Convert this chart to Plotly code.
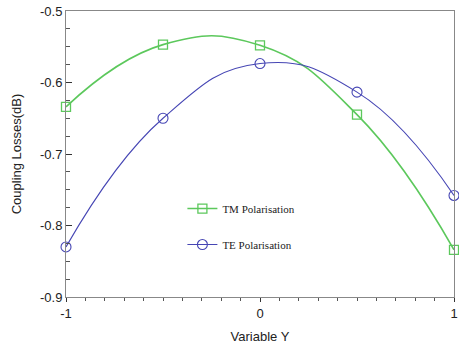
import plotly.graph_objects as go

# Offset values along the Y direction
variable_y = [-1.0, -0.5, 0.0, 0.5, 1.0]
# Coupling losses (dB) for each polarisation
tm_loss = [-0.634, -0.547, -0.548, -0.645, -0.834]
te_loss = [-0.830, -0.650, -0.5735, -0.6135, -0.758]

# Axis tick labels (plain hyphen minus signs)
x_ticks = [-1, 0, 1]
x_tick_text = ["-1", "0", "1"]
y_ticks = [-0.9, -0.8, -0.7, -0.6, -0.5]
y_tick_text = ["-0.9", "-0.8", "-0.7", "-0.6", "-0.5"]

fig = go.Figure()
fig.add_trace(go.Scatter(
    x=variable_y, y=tm_loss, name="TM Polarisation", mode="lines+markers",
    line=dict(color="#5cc85c", width=1.6, shape="spline", smoothing=1.3),
    marker=dict(symbol="square-open", size=9, color="#5cc85c", line=dict(width=1.3)),
    cliponaxis=False, legendgroup="tm",
))
fig.add_trace(go.Scatter(
    x=variable_y, y=te_loss, name="TE Polarisation", mode="lines+markers",
    line=dict(color="#4646b4", width=1.1, shape="spline", smoothing=1.3),
    marker=dict(symbol="circle-open", size=10, color="#4646b4", line=dict(width=1.1)),
    cliponaxis=False, legendgroup="te",
))

axis_font = dict(family="Liberation Sans", size=13, color="#222")
fig.update_layout(
    width=459, height=344,
    margin=dict(l=66, r=5, t=11, b=47),
    paper_bgcolor="white", plot_bgcolor="white",
    showlegend=True,
    legend=dict(
        x=0.30, y=0.36, xanchor="left", yanchor="top",
        bgcolor="rgba(0,0,0,0)", traceorder="grouped", tracegroupgap=17,
        font=dict(family="Liberation Serif", size=11, color="#222"),
    ),
    xaxis=dict(
        range=[-1, 1], tickvals=x_ticks, ticktext=x_tick_text, automargin=False,
        ticks="outside", ticklen=4, tickcolor="#333", ticklabeloverflow="allow",
        minor=dict(dtick=0.1, tick0=-1, ticks="outside", ticklen=3, tickcolor="#555", showgrid=False),
        showline=True, linecolor="#888", linewidth=1, mirror=True,
        showgrid=False, zeroline=False, tickfont=axis_font,
        title=dict(text="Variable Y", font=axis_font),
    ),
    yaxis=dict(
        range=[-0.9, -0.5], tickvals=y_ticks, ticktext=y_tick_text, automargin=False,
        ticks="inside", ticklen=6, tickcolor="#333",
        minor=dict(dtick=0.025, tick0=-0.9, ticks="inside", ticklen=4, tickcolor="#555", showgrid=False),
        showline=True, linecolor="#888", linewidth=1, mirror=True,
        showgrid=False, zeroline=False, tickfont=axis_font,
        title=dict(text="Coupling Losses(dB)", font=axis_font),
    ),
)

fig.write_html("out.html")
